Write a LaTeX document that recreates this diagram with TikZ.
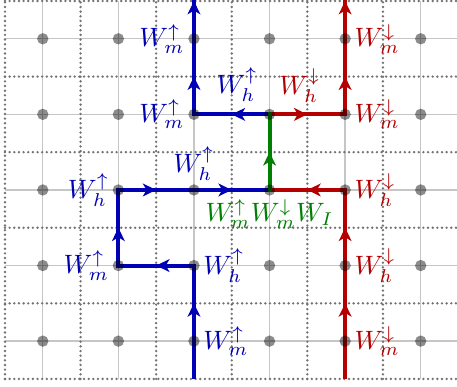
\documentclass[tikz,border=0pt]{standalone}
\usepackage{amsmath,amssymb}
\usetikzlibrary{arrows.meta,decorations.markings}
\definecolor{SpinBlue}{RGB}{0,0,180}
\definecolor{SpinRed}{RGB}{180,0,0}
\definecolor{SpinGreen}{RGB}{0,128,0}
\tikzset{
  latt/.style={gray!45,line width=0.5pt},
  dual/.style={gray!90!black,line width=1pt,line cap=round,dash pattern=on 0pt off 1.75pt},
  bond/.style={line width=1.5pt,line cap=rect,postaction={decorate},
    decoration={markings,
      mark=at position 0.5 with {\arrow{Stealth[length=5pt,width=4.8pt,inset=1.4pt]}}}},
  site/.style={fill=black,fill opacity=0.45},
  uplab/.style={text=SpinBlue},
  dnlab/.style={text=SpinRed},
}
\begin{document}
\begin{tikzpicture}
  \useasboundingbox (-0.566,-0.606) rectangle (5.48,4.513);
  % lattice and dual lattice
  \foreach \x in {0,...,5} \draw[latt] (\x,-0.5) -- (\x,4.5);
  \foreach \y in {0,...,4} \draw[latt] (-0.5,\y) -- (5.5,\y);
  \foreach \x in {-0.5,0.5,...,4.5} \draw[dual] (\x,-0.5) -- (\x,4.5);
  \foreach \y in {-0.5,0.5,...,4.5} \draw[dual] (-0.5,\y) -- (5.5,\y);
  \foreach \x in {0,...,5}
    \foreach \y in {-1,...,5}
      \coordinate (s\x\y) at (\x,\y);
  % world lines
  \begin{scope}
    \clip (-0.5,-0.5) rectangle (5.5,4.5);
    \foreach \a/\b in {s2-1/s20,s20/s21,s21/s11,s11/s12,s12/s22,s22/s32,s33/s23,s23/s24,s24/s25}
      \draw[bond,SpinBlue] (\a) -- (\b);
    \foreach \a/\b in {s4-1/s40,s40/s41,s41/s42,s42/s32,s33/s43,s43/s44,s44/s45}
      \draw[bond,SpinRed] (\a) -- (\b);
    \draw[bond,SpinGreen] (s32) -- (s33);
  \end{scope}
  \foreach \x in {0,...,5}
    \foreach \y in {0,...,4}
      \fill[site] (s\x\y) circle (0.075);
  % spin up labels
  \node[uplab,left] (um4) at (s24) {$W_m^\uparrow$};
  \node[uplab,left] (um3) at (s23) {$W_m^\uparrow$};
  \node[uplab] (uh3) at (2.57,3.39) {$W_h^\uparrow$};
  \node[uplab,above] (uh2) at (s22) {$W_h^\uparrow$};
  \node[uplab,left] (uh1) at (s12) {$W_h^\uparrow$};
  \node[uplab,left] (um1) at (s11) {$W_m^\uparrow$};
  \node[uplab,right] (uh0) at (s21) {$W_h^\uparrow$};
  \node[uplab,right] (um0) at (s20) {$W_m^\uparrow$};
  % spin down labels
  \node[dnlab,right] (dm4) at (s44) {$W_m^\downarrow$};
  \node[dnlab,right] (dm3) at (s43) {$W_m^\downarrow$};
  \node[dnlab] (dh3) at (3.40,3.38) {$W_h^\downarrow$};
  \node[dnlab,right] (dh2) at (s42) {$W_h^\downarrow$};
  \node[dnlab,right] (dh1) at (s41) {$W_h^\downarrow$};
  \node[dnlab,right] (dm0) at (s40) {$W_m^\downarrow$};
  % interaction vertex
  \node[text=SpinGreen,below] (vx) at (s32) {$W_m^\uparrow W_m^\downarrow W_I$};
\end{tikzpicture}
\end{document}
